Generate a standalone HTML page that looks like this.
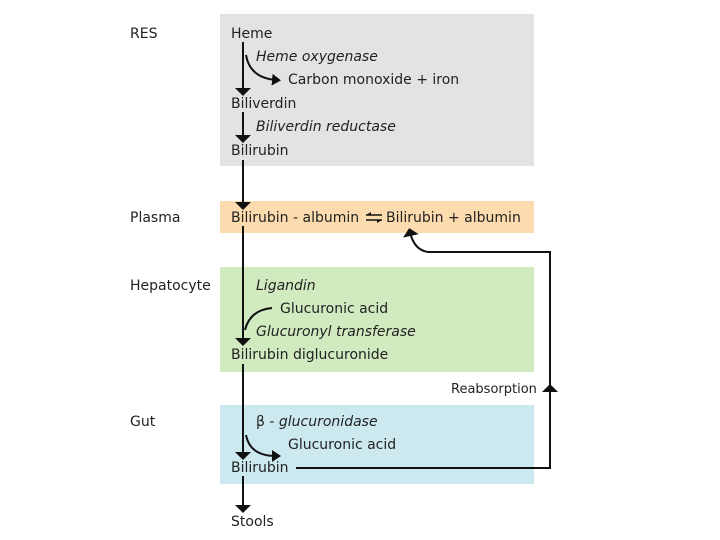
<!DOCTYPE html>
<html><head><style>
body{margin:0;background:#fff}
svg{display:block}
text{font-family:"DejaVu Sans","Liberation Sans",sans-serif;font-size:14px;fill:#222}
.i{font-style:italic}
</style></head><body>
<svg width="720" height="540" viewBox="0 0 720 540">
<defs><marker id="a" markerWidth="8" markerHeight="16" refX="4" refY="8" orient="auto" markerUnits="userSpaceOnUse"><path d="M0,0 L8,8 L0,16 Z" fill="#111"/></marker>
<marker id="b" markerWidth="9" markerHeight="12" refX="4" refY="6" orient="auto" markerUnits="userSpaceOnUse"><path d="M0,0 L9,6 L0,12 Z" fill="#111"/></marker></defs>
<rect x="220" y="14" width="314" height="152" fill="#e3e3e3"/>
<rect x="220" y="201" width="314" height="32" fill="#fcdcae"/>
<rect x="220" y="267" width="314" height="105" fill="#d2eac0"/>
<rect x="220" y="405" width="314" height="79" fill="#cde9f0"/>
<text x="130" y="38">RES</text>
<text x="130" y="222">Plasma</text>
<text x="130" y="290">Hepatocyte</text>
<text x="130" y="426">Gut</text>
<text x="231" y="38">Heme</text>
<text x="256" y="61" class="i">Heme oxygenase</text>
<text x="288" y="84">Carbon monoxide + iron</text>
<text x="231" y="108">Biliverdin</text>
<text x="256" y="131" class="i">Biliverdin reductase</text>
<text x="231" y="155">Bilirubin</text>
<text x="231" y="222">Bilirubin - albumin</text>
<text x="386" y="222">Bilirubin + albumin</text>
<text x="256" y="290" class="i">Ligandin</text>
<text x="280" y="313">Glucuronic acid</text>
<text x="256" y="336" class="i">Glucuronyl transferase</text>
<text x="231" y="359">Bilirubin diglucuronide</text>
<text x="451" y="393" style="font-size:13px">Reabsorption</text>
<text x="256" y="426">β - <tspan class="i">glucuronidase</tspan></text>
<text x="288" y="449">Glucuronic acid</text>
<text x="231" y="472">Bilirubin</text>
<text x="231" y="526">Stools</text>
<g stroke="#111" stroke-width="2" fill="none">
<line x1="243" y1="42" x2="243" y2="92" marker-end="url(#a)"/>
<line x1="243" y1="112" x2="243" y2="139" marker-end="url(#a)"/>
<line x1="243" y1="160" x2="243" y2="206" marker-end="url(#a)"/>
<line x1="243" y1="226" x2="243" y2="342" marker-end="url(#a)"/>
<line x1="243" y1="364" x2="243" y2="456" marker-end="url(#a)"/>
<line x1="243" y1="476" x2="243" y2="509" marker-end="url(#a)"/>
<path d="M246,55 Q250,78 276,80" marker-end="url(#b)"/>
<path d="M246,435 Q250,456 276,456" marker-end="url(#b)"/>
<path d="M272,308 Q250,310 245,330"/>
<path d="M296,468 L550,468 L550,252 L428,252 Q414,250 410,232" marker-end="url(#a)"/>
<line x1="550" y1="400" x2="550" y2="388" marker-end="url(#a)"/>
</g>
<g stroke="#111" stroke-width="1.5">
<line x1="366" y1="215" x2="382" y2="215"/><line x1="366" y1="220" x2="382" y2="220"/>
</g>
<path d="M366,215 l5,-3 v3z M382,220 l-5,3 v-3z" fill="#111"/>
</svg>
</body></html>
